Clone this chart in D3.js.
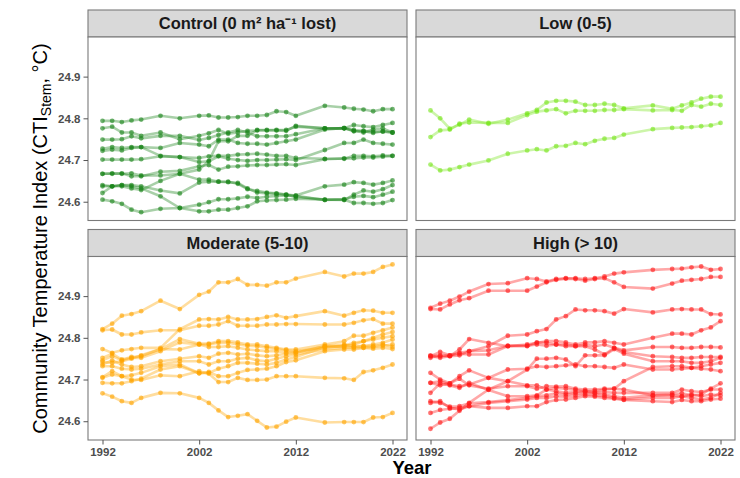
<!DOCTYPE html>
<html>
<head>
<meta charset="utf-8">
<script src="https://cdn.jsdelivr.net/npm/d3@7"></script>
<style>
  html, body { margin: 0; padding: 0; background: #fff; }
  svg { display: block; font-family: "Liberation Sans", Arial, Helvetica, sans-serif; }
</style>
</head>
<body>
<svg id="chart" width="740" height="478"></svg>
<script>
// Census years shared by every plot series
const years = [1992,1993,1994,1995,1996,1998,2000,2002,2003,2004,2005,2006,2007,2008,2009,2010,2011,2012,2015,2017,2018,2019,2020,2021,2022];

const xTicks = [1992, 2002, 2012, 2022];
const yTicks = [24.6, 24.7, 24.8, 24.9];

const panelTitles = ["Control (0 m\u00B2 ha\u207B\u00B9 lost)", "Low (0-5)", "Moderate (5-10)", "High (> 10)"];
const panelColors = ["#1a841a", "#78e51c", "#ffa500", "#ff1a1a"];

// Community temperature index per plot, control group
const controlSeries = [
  [24.794,24.794,24.791,24.795,24.797,24.806,24.800,24.806,24.807,24.802,24.802,24.803,24.806,24.806,24.808,24.817,24.815,24.806,24.830,24.826,24.823,24.821,24.817,24.822,24.822],
  [24.776,24.780,24.766,24.766,24.758,24.766,24.750,24.758,24.764,24.772,24.763,24.766,24.770,24.771,24.771,24.771,24.770,24.782,24.776,24.776,24.784,24.781,24.779,24.784,24.789],
  [24.749,24.749,24.750,24.757,24.752,24.758,24.758,24.748,24.753,24.760,24.766,24.772,24.766,24.757,24.757,24.757,24.757,24.762,24.776,24.776,24.770,24.766,24.773,24.776,24.766],
  [24.727,24.731,24.729,24.731,24.731,24.729,24.741,24.737,24.733,24.749,24.749,24.741,24.739,24.739,24.737,24.741,24.745,24.749,24.773,24.777,24.769,24.769,24.765,24.769,24.766],
  [24.722,24.725,24.723,24.729,24.731,24.710,24.707,24.705,24.709,24.710,24.710,24.713,24.714,24.715,24.713,24.710,24.710,24.705,24.703,24.703,24.710,24.710,24.709,24.711,24.710],
  [24.701,24.701,24.701,24.701,24.702,24.709,24.707,24.695,24.697,24.709,24.703,24.700,24.698,24.700,24.700,24.701,24.702,24.700,24.724,24.741,24.741,24.749,24.741,24.739,24.737],
  [24.667,24.668,24.667,24.668,24.663,24.663,24.667,24.677,24.698,24.745,24.745,24.758,24.758,24.772,24.772,24.772,24.772,24.780,24.776,24.776,24.772,24.770,24.768,24.768,24.766],
  [24.667,24.667,24.668,24.661,24.661,24.672,24.674,24.685,24.688,24.677,24.684,24.685,24.687,24.688,24.688,24.689,24.690,24.688,24.702,24.704,24.704,24.706,24.706,24.708,24.710],
  [24.640,24.637,24.637,24.632,24.628,24.650,24.667,24.653,24.653,24.648,24.648,24.643,24.630,24.626,24.622,24.620,24.617,24.612,24.605,24.604,24.617,24.627,24.624,24.630,24.640],
  [24.637,24.637,24.640,24.640,24.637,24.627,24.620,24.646,24.648,24.648,24.647,24.645,24.632,24.622,24.620,24.619,24.617,24.615,24.637,24.641,24.647,24.645,24.641,24.645,24.651],
  [24.621,24.637,24.640,24.637,24.632,24.613,24.585,24.593,24.599,24.606,24.606,24.608,24.612,24.609,24.612,24.614,24.615,24.614,24.604,24.606,24.612,24.614,24.611,24.617,24.624],
  [24.605,24.601,24.595,24.581,24.575,24.583,24.585,24.577,24.577,24.581,24.581,24.585,24.589,24.601,24.603,24.604,24.605,24.607,24.605,24.605,24.597,24.597,24.595,24.597,24.604]
];

// Low basal-area loss group
const lowSeries = [
  [24.819,24.800,24.775,24.785,24.797,24.787,24.797,24.812,24.820,24.838,24.842,24.842,24.840,24.832,24.832,24.835,24.832,24.824,24.831,24.823,24.831,24.838,24.847,24.852,24.852],
  [24.755,24.771,24.773,24.787,24.790,24.789,24.789,24.808,24.816,24.819,24.822,24.812,24.818,24.818,24.818,24.820,24.820,24.822,24.819,24.820,24.818,24.832,24.828,24.835,24.832],
  [24.689,24.675,24.677,24.683,24.689,24.699,24.715,24.723,24.726,24.723,24.733,24.734,24.741,24.738,24.746,24.751,24.753,24.761,24.774,24.777,24.778,24.779,24.781,24.783,24.789]
];

// Moderate basal-area loss group
const moderateSeries = [
  [24.821,24.834,24.853,24.857,24.864,24.889,24.869,24.903,24.911,24.933,24.933,24.941,24.927,24.927,24.925,24.933,24.933,24.942,24.958,24.947,24.954,24.954,24.958,24.970,24.976],
  [24.818,24.820,24.808,24.808,24.813,24.818,24.818,24.829,24.829,24.832,24.840,24.829,24.829,24.829,24.832,24.832,24.833,24.833,24.832,24.832,24.836,24.842,24.845,24.834,24.834],
  [24.773,24.764,24.770,24.773,24.776,24.776,24.821,24.844,24.845,24.844,24.850,24.844,24.844,24.845,24.850,24.854,24.848,24.852,24.864,24.853,24.860,24.866,24.865,24.860,24.860],
  [24.752,24.762,24.748,24.754,24.756,24.773,24.797,24.786,24.786,24.792,24.792,24.789,24.784,24.784,24.780,24.776,24.772,24.772,24.784,24.792,24.805,24.805,24.812,24.818,24.825],
  [24.746,24.756,24.746,24.752,24.752,24.768,24.789,24.784,24.784,24.788,24.788,24.784,24.781,24.780,24.776,24.773,24.770,24.768,24.776,24.781,24.784,24.792,24.796,24.800,24.804],
  [24.742,24.740,24.744,24.750,24.758,24.773,24.772,24.784,24.778,24.778,24.780,24.776,24.772,24.770,24.768,24.768,24.765,24.765,24.780,24.784,24.780,24.780,24.784,24.788,24.796],
  [24.736,24.746,24.736,24.730,24.732,24.744,24.750,24.756,24.752,24.762,24.764,24.760,24.762,24.758,24.756,24.758,24.762,24.764,24.780,24.778,24.776,24.776,24.774,24.776,24.773],
  [24.732,24.732,24.726,24.724,24.726,24.736,24.744,24.744,24.736,24.744,24.744,24.750,24.752,24.746,24.744,24.750,24.756,24.760,24.772,24.776,24.778,24.780,24.780,24.784,24.778],
  [24.704,24.712,24.708,24.710,24.716,24.732,24.736,24.715,24.716,24.726,24.732,24.740,24.740,24.738,24.736,24.740,24.748,24.754,24.778,24.781,24.788,24.792,24.800,24.808,24.814],
  [24.692,24.691,24.691,24.696,24.702,24.724,24.732,24.715,24.718,24.708,24.708,24.716,24.723,24.724,24.726,24.732,24.742,24.746,24.768,24.772,24.772,24.776,24.778,24.781,24.784],
  [24.706,24.720,24.708,24.700,24.699,24.710,24.708,24.720,24.714,24.694,24.694,24.704,24.699,24.699,24.700,24.708,24.708,24.708,24.704,24.703,24.699,24.718,24.722,24.728,24.736],
  [24.667,24.659,24.648,24.644,24.656,24.668,24.667,24.656,24.644,24.626,24.610,24.613,24.617,24.601,24.585,24.587,24.599,24.609,24.597,24.598,24.598,24.598,24.609,24.610,24.620]
];

// High basal-area loss group
const highSeries = [
  [24.869,24.868,24.880,24.890,24.895,24.913,24.913,24.913,24.923,24.933,24.939,24.942,24.941,24.937,24.941,24.943,24.933,24.922,24.918,24.930,24.937,24.939,24.941,24.946,24.946],
  [24.872,24.882,24.889,24.899,24.911,24.929,24.931,24.943,24.941,24.935,24.941,24.943,24.943,24.941,24.943,24.947,24.954,24.957,24.963,24.965,24.966,24.969,24.971,24.963,24.965],
  [24.756,24.766,24.758,24.764,24.768,24.780,24.805,24.808,24.816,24.821,24.844,24.852,24.868,24.866,24.866,24.864,24.858,24.869,24.861,24.868,24.869,24.868,24.868,24.857,24.856],
  [24.752,24.758,24.756,24.772,24.797,24.788,24.780,24.784,24.788,24.792,24.792,24.789,24.784,24.789,24.789,24.792,24.788,24.784,24.800,24.810,24.810,24.808,24.818,24.825,24.840],
  [24.756,24.752,24.756,24.758,24.768,24.770,24.781,24.781,24.784,24.781,24.784,24.784,24.780,24.784,24.780,24.784,24.776,24.770,24.778,24.778,24.776,24.776,24.778,24.778,24.777],
  [24.758,24.756,24.758,24.762,24.760,24.760,24.780,24.780,24.789,24.788,24.784,24.780,24.780,24.780,24.772,24.760,24.776,24.766,24.756,24.754,24.752,24.752,24.754,24.754,24.754],
  [24.582,24.597,24.606,24.625,24.644,24.676,24.696,24.724,24.750,24.750,24.752,24.748,24.732,24.758,24.758,24.758,24.773,24.762,24.744,24.744,24.744,24.740,24.740,24.744,24.752],
  [24.716,24.700,24.691,24.708,24.722,24.704,24.724,24.726,24.732,24.730,24.732,24.734,24.736,24.732,24.732,24.730,24.728,24.736,24.724,24.724,24.726,24.728,24.732,24.736,24.740],
  [24.692,24.696,24.688,24.684,24.688,24.704,24.696,24.686,24.686,24.676,24.680,24.678,24.675,24.672,24.672,24.676,24.678,24.696,24.730,24.732,24.732,24.728,24.726,24.724,24.720],
  [24.668,24.691,24.686,24.680,24.692,24.675,24.660,24.660,24.662,24.676,24.672,24.668,24.670,24.672,24.668,24.670,24.668,24.668,24.668,24.668,24.676,24.672,24.670,24.676,24.676],
  [24.648,24.644,24.635,24.636,24.643,24.646,24.651,24.656,24.660,24.662,24.667,24.664,24.667,24.668,24.667,24.664,24.660,24.656,24.662,24.664,24.667,24.662,24.664,24.678,24.691],
  [24.644,24.648,24.632,24.628,24.636,24.644,24.648,24.652,24.656,24.656,24.660,24.659,24.662,24.664,24.662,24.660,24.656,24.652,24.656,24.656,24.660,24.656,24.652,24.656,24.668],
  [24.620,24.627,24.630,24.632,24.636,24.632,24.632,24.636,24.636,24.646,24.651,24.652,24.656,24.660,24.659,24.656,24.654,24.651,24.648,24.646,24.651,24.648,24.648,24.652,24.654],
  [24.692,24.686,24.691,24.702,24.686,24.678,24.684,24.684,24.678,24.684,24.683,24.684,24.678,24.676,24.676,24.678,24.678,24.676,24.662,24.662,24.659,24.664,24.660,24.664,24.662]
];

const groups = [controlSeries, lowSeries, moderateSeries, highSeries];

// Facet layout
const panelW = 319, panelH = 183.5, stripH = 27;
const panelX = [88, 416];
const panelY = [37, 256.5];

const x = d3.scaleLinear().domain([1990.5, 2023.5]).range([0, panelW]);
const y = d3.scaleLinear().domain([24.555, 24.995]).range([panelH, 0]);

const svg = d3.select("#chart");

const line = d3.line()
  .defined(d => d.v != null)
  .x(d => x(d.year))
  .y(d => y(d.v));

groups.forEach((series, i) => {
  const col = i % 2, row = Math.floor(i / 2);
  const g = svg.append("g").attr("transform", `translate(${panelX[col]},${panelY[row]})`);

  // Strip header
  g.append("rect")
    .attr("x", 0).attr("y", -stripH)
    .attr("width", panelW).attr("height", stripH)
    .attr("fill", "#d9d9d9").attr("stroke", "#7a7a7a").attr("stroke-width", 1.1);
  g.append("text")
    .attr("x", panelW / 2).attr("y", -stripH / 2)
    .attr("dy", "0.36em")
    .attr("text-anchor", "middle")
    .attr("font-size", 16.5).attr("font-weight", "bold")
    .attr("fill", "#1a1a1a")
    .text(panelTitles[i]);

  // Panel background
  g.append("rect").attr("width", panelW).attr("height", panelH).attr("fill", "#fff");

  const data = series.map(vals => vals.map((v, k) => ({ year: years[k], v })));
  const color = panelColors[i];

  g.append("g").selectAll("path").data(data).join("path")
    .attr("d", line)
    .attr("fill", "none")
    .attr("stroke", color)
    .attr("stroke-opacity", 0.38)
    .attr("stroke-width", 2.6)
    .attr("stroke-linejoin", "round");

  g.append("g").selectAll("g").data(data).join("g")
    .selectAll("circle").data(d => d.filter(p => p.v != null)).join("circle")
    .attr("cx", d => x(d.year))
    .attr("cy", d => y(d.v))
    .attr("r", 2.4)
    .attr("fill", color)
    .attr("fill-opacity", 0.62);

  // Panel border
  g.append("rect").attr("width", panelW).attr("height", panelH)
    .attr("fill", "none").attr("stroke", "#7a7a7a").attr("stroke-width", 1.1);

  if (col === 0) {
    const ax = g.append("g").call(
      d3.axisLeft(y).tickValues(yTicks).tickFormat(d3.format(".1f")).tickSize(4.5).tickPadding(3)
    );
    ax.select(".domain").remove();
    ax.selectAll("line").attr("stroke", "#555");
    ax.selectAll("text").attr("font-size", 11.5).attr("font-weight", "bold").attr("fill", "#4d4d4d")
      .style("font-family", "'Liberation Sans', Arial, sans-serif");
  }
  if (row === 1) {
    const ax = g.append("g").attr("transform", `translate(0,${panelH})`).call(
      d3.axisBottom(x).tickValues(xTicks).tickFormat(d3.format("d")).tickSize(4.5).tickPadding(3)
    );
    ax.select(".domain").remove();
    ax.selectAll("line").attr("stroke", "#555");
    ax.selectAll("text").attr("font-size", 11.5).attr("font-weight", "bold").attr("fill", "#4d4d4d")
      .style("font-family", "'Liberation Sans', Arial, sans-serif");
  }
});

// Axis titles
svg.append("text")
  .attr("x", 412).attr("y", 474)
  .attr("text-anchor", "middle")
  .attr("font-size", 18.5).attr("font-weight", "bold").attr("fill", "#000")
  .text("Year");

const yTitle = svg.append("text")
  .attr("transform", `translate(47,${(panelY[0] + panelY[1] + panelH) / 2}) rotate(-90)`)
  .attr("text-anchor", "middle")
  .attr("font-size", 20).attr("fill", "#000");
yTitle.append("tspan").text("Community Temperature Index (CTI");
yTitle.append("tspan").attr("font-size", 14).attr("dy", 4).text("Stem");
yTitle.append("tspan").attr("dy", -4).text(", \u00B0C)");
</script>
</body>
</html>
